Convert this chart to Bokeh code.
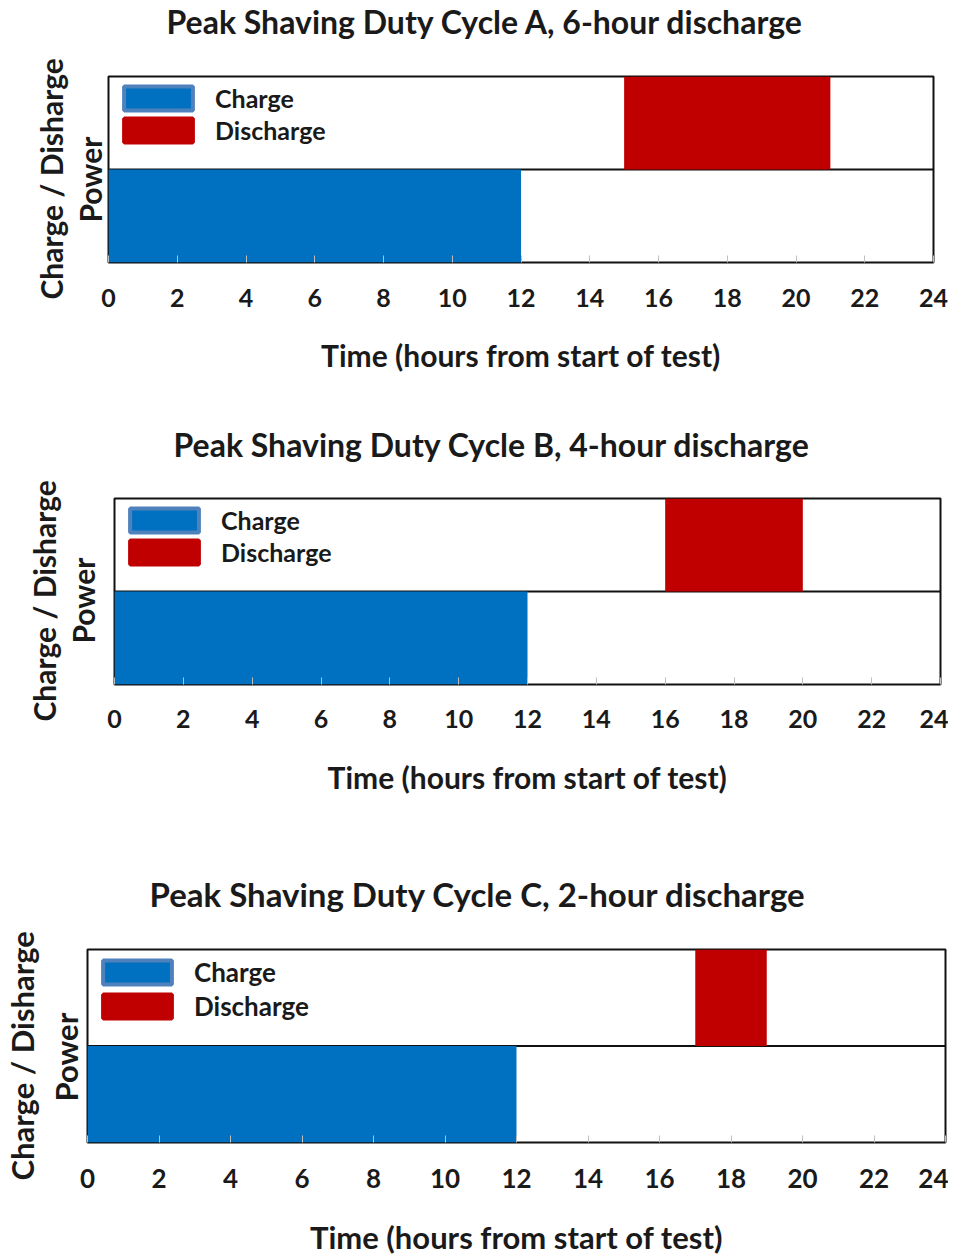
import math
from bokeh.plotting import figure
from bokeh.models import Range1d, FixedTicker, Span, Legend, LegendItem, Title
from bokeh.layouts import column
from bokeh.embed import file_html
from bokeh.resources import INLINE

# ---------------- data ----------------
cycles = ["A", "B", "C"]
discharge_hours = [6, 4, 2]
charge_start = [0, 0, 0]
charge_end = [12, 12, 12]
discharge_start = [15, 16, 17]
discharge_end = [21, 20, 19]
charge_power = [-1, -1, -1]
discharge_power = [1, 1, 1]
baseline = 0
hour_ticks = [0, 2, 4, 6, 8, 10, 12, 14, 16, 18, 20, 22, 24]
legend_labels = ["Charge", "Discharge"]
y_label_lines = ["Charge  / Disharge", "Power"]
x_label = "Time (hours from start of test)"

# ---------------- style ----------------
FONT = "Lato"
TXT = "#1a1a1a"
BLUE = "#0070c0"
BLUE_EDGE = "#4f81bd"
RED = "#c00000"
NAN = float("nan")

# per-panel layout (pixels)
layouts = [
    dict(fw=825, fh=186, mt=-32, bottom=157, left=108, right=15,
         t_fs=32, t_off=58, t_st=67,
         y_fs=30, y_gap=None, pow_st=2, cdp_st=0, pow_off=40, cdp_off=-37,
         tk_fs=25, xl_fs=30, lg_fs=25, tk_st=26, xl_st=27),
    dict(fw=826, fh=186, mt=-28, bottom=182, left=114, right=8,
         t_fs=32, t_off=59, t_st=66,
         y_fs=30, y_gap=10, pow_st=2, cdp_st=0, pow_off=41, cdp_off=-37,
         tk_fs=25, xl_fs=30, lg_fs=25, tk_st=25, xl_st=28),
    dict(fw=858, fh=193, mt=-27, bottom=115, left=87, right=3,
         t_fs=33, t_off=62, t_st=68,
         y_fs=31, y_gap=None, pow_st=6, cdp_st=1, pow_off=41, cdp_off=-38,
         tk_fs=26, xl_fs=31, lg_fs=26, tk_st=26, xl_st=27),
]

figs = []
for i, c in enumerate(cycles):
    L = layouts[i]
    p = figure(frame_width=L["fw"], frame_height=L["fh"], output_backend="svg",
               toolbar_location=None,
               x_range=Range1d(hour_ticks[0], hour_ticks[-1]), y_range=Range1d(-1, 1),
               y_axis_location=None,
               min_border_top=0, min_border_bottom=L["bottom"],
               min_border_left=L["left"], min_border_right=L["right"],
               frame_align=False, margin=(L["mt"], 0, 0, 0))
    p.xgrid.visible = False
    p.ygrid.visible = False
    p.outline_line_color = "#111111"
    p.outline_line_width = 2
    p.background_fill_color = "white"
    p.border_fill_color = "white"

    # main title
    p.title.text = f"Peak Shaving Duty Cycle {c}, {discharge_hours[i]}-hour discharge"
    p.title.align = "left"
    p.title.offset = L["t_off"]
    p.title.vertical_align = "top"
    p.title.standoff = L["t_st"]
    p.title.text_font = FONT
    p.title.text_font_style = "bold"
    p.title.text_font_size = f"{L['t_fs']}px"
    p.title.text_color = TXT

    # y label: two lines, nearest line first (optional gap next to the frame)
    if L["y_gap"] is not None:
        p.add_layout(Title(text=" ", text_font_size="1px", standoff=L["y_gap"]), "left")
    for txt, st, off in ((y_label_lines[1], L["pow_st"], L["pow_off"]),
                         (y_label_lines[0], L["cdp_st"], L["cdp_off"])):
        p.add_layout(Title(text=txt, align="left", offset=off, vertical_align="bottom",
                           standoff=st, text_font=FONT, text_font_style="bold",
                           text_font_size=f"{L['y_fs']}px", text_color=TXT), "left")

    # zero line (under bars)
    p.add_layout(Span(location=baseline, dimension="width", line_color="#111111",
                      line_width=2, level="underlay"))

    # bars
    p.quad(left=[charge_start[i]], right=[charge_end[i]],
           bottom=[charge_power[i]], top=[baseline],
           fill_color=BLUE, line_color=None)
    p.quad(left=[discharge_start[i]], right=[discharge_end[i]],
           bottom=[baseline], top=[discharge_power[i]],
           fill_color=RED, line_color=None)

    # legend-only swatches (not drawn in the plot area)
    lc = p.quad(left=[NAN], right=[NAN], top=[NAN], bottom=[NAN], fill_color=BLUE,
                line_color=BLUE_EDGE, line_width=4)
    ld = p.quad(left=[NAN], right=[NAN], top=[NAN], bottom=[NAN], fill_color=RED,
                line_color=RED, line_width=4)
    leg = Legend(items=[LegendItem(label=legend_labels[0], renderers=[lc]),
                        LegendItem(label=legend_labels[1], renderers=[ld])],
                 location="top_left", margin=0, padding=7, spacing=2,
                 glyph_width=86, glyph_height=30, label_standoff=14,
                 label_text_font=FONT, label_text_font_style="bold",
                 label_text_font_size=f"{L['lg_fs']}px", label_text_color=TXT,
                 background_fill_alpha=0, border_line_alpha=0)
    p.add_layout(leg)

    # x axis
    ax = p.xaxis[0]
    ax.ticker = FixedTicker(ticks=hour_ticks)
    ax.axis_line_color = None
    ax.major_tick_in = 7
    ax.major_tick_out = 0
    ax.major_tick_line_color = "#bfbfbf"
    ax.minor_tick_line_color = None
    ax.major_label_text_font = FONT
    ax.major_label_text_font_style = "bold"
    ax.major_label_text_font_size = f"{L['tk_fs']}px"
    ax.major_label_text_color = TXT
    ax.major_label_standoff = L["tk_st"]
    ax.axis_label = x_label
    ax.axis_label_text_font = FONT
    ax.axis_label_text_font_style = "bold"
    ax.axis_label_text_font_size = f"{L['xl_fs']}px"
    ax.axis_label_text_color = TXT
    ax.axis_label_standoff = L["xl_st"]
    figs.append(p)

layout = column(*figs, spacing=0)
open("out.html", "w").write(file_html(layout, INLINE))
